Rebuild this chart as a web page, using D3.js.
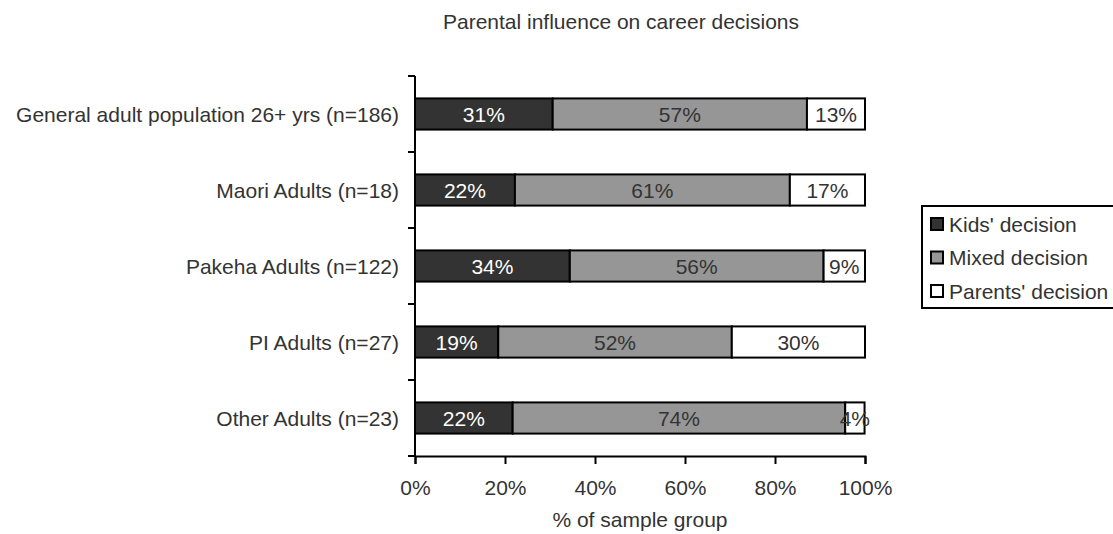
<!DOCTYPE html>
<html>
<head>
<meta charset="utf-8">
<script src="https://cdn.jsdelivr.net/npm/d3@7"></script>
<style>
  body { margin: 0; background: #fff; }
  text { font-family: "Liberation Sans", Arial, sans-serif; fill: #333; }
</style>
</head>
<body>
<div id="chart"></div>
<script>
var groups = ["General adult population 26+ yrs (n=186)", "Maori Adults (n=18)", "Pakeha Adults (n=122)", "PI Adults (n=27)", "Other Adults (n=23)"];
var seriesNames = ["Kids' decision", "Mixed decision", "Parents' decision"];
var kids = [30.6, 22.2, 34.4, 18.5, 21.7];
var mixed = [56.5, 61.1, 56.4, 51.9, 73.9];
var parents = [12.9, 16.7, 9.2, 29.6, 4.3];
var labelKids = ["31%", "22%", "34%", "19%", "22%"];
var labelMixed = ["57%", "61%", "56%", "52%", "74%"];
var labelParents = ["13%", "17%", "9%", "30%", "4%"];
var xTicks = [0, 20, 40, 60, 80, 100];
var colors = ["#333333", "#969696", "#ffffff"];
var textColors = ["#ffffff", "#333333", "#333333"];

var width = 1113, height = 534;
var fs = "21px";
var svg = d3.select("#chart").append("svg")
  .attr("width", width)
  .attr("height", height);

var x = d3.scaleLinear().domain([0, 100]).range([415, 865]);
var y = d3.scaleBand().domain(groups).range([76, 456]).paddingInner(0.59).paddingOuter(0.295);

var table = groups.map(function(g, i){
  return {group: g, vals: [kids[i], mixed[i], parents[i]], labels: [labelKids[i], labelMixed[i], labelParents[i]]};
});

// title
svg.append("text")
  .attr("x", 621).attr("y", 29)
  .attr("text-anchor", "middle")
  .style("font-size", fs)
  .text("Parental influence on career decisions");

// bars
var rows = svg.selectAll(".row")
  .data(table)
  .enter().append("g")
  .attr("class", "row");

rows.each(function(d){
  var g = d3.select(this);
  var start = 0;
  d.vals.forEach(function(v, k){
    g.append("rect")
      .attr("x", x(start))
      .attr("y", y(d.group))
      .attr("width", x(start + v) - x(start))
      .attr("height", y.bandwidth())
      .attr("fill", colors[k])
      .attr("stroke", "#000")
      .attr("stroke-width", 2);
    start += v;
  });
  start = 0;
  d.vals.forEach(function(v, k){
    g.append("text")
      .attr("x", (x(start) + x(start + v)) / 2)
      .attr("y", y(d.group) + y.bandwidth() / 2)
      .attr("dy", "0.36em")
      .attr("text-anchor", "middle")
      .style("font-size", fs)
      .style("fill", textColors[k])
      .text(d.labels[k]);
    start += v;
  });
});

// y axis
var yTickPos = d3.range(groups.length + 1).map(function(i){ return 76 + i * 76; });
svg.append("line")
  .attr("x1", 415).attr("x2", 415)
  .attr("y1", 76).attr("y2", 456)
  .attr("stroke", "#000").attr("stroke-width", 2);
svg.selectAll(".ytick")
  .data(yTickPos)
  .enter().append("line")
  .attr("x1", 408).attr("x2", 415)
  .attr("y1", function(d){ return d; }).attr("y2", function(d){ return d; })
  .attr("stroke", "#000").attr("stroke-width", 2);
svg.selectAll(".ylabel")
  .data(groups)
  .enter().append("text")
  .attr("x", 399)
  .attr("y", function(d){ return y(d) + y.bandwidth() / 2; })
  .attr("dy", "0.36em")
  .attr("text-anchor", "end")
  .style("font-size", fs)
  .text(function(d){ return d; });

// x axis
var xAxis = svg.append("g")
  .attr("transform", "translate(0,456)")
  .call(d3.axisBottom(x).tickValues(xTicks).tickSize(8).tickPadding(16).tickFormat(function(d){ return d + "%"; }));
xAxis.select(".domain").attr("stroke", "#000").attr("stroke-width", 2);
xAxis.selectAll(".tick line").attr("stroke", "#000").attr("stroke-width", 2);
xAxis.selectAll(".tick text")
  .style("font-family", "'Liberation Sans', Arial, sans-serif")
  .style("font-size", fs)
  .style("fill", "#333");

svg.append("text")
  .attr("x", 640).attr("y", 527)
  .attr("text-anchor", "middle")
  .style("font-size", fs)
  .text("% of sample group");

// legend
var legend = svg.append("g").attr("transform", "translate(922,206)");
legend.append("rect")
  .attr("x", 0).attr("y", 0)
  .attr("width", 200).attr("height", 102)
  .attr("fill", "#fff")
  .attr("stroke", "#000").attr("stroke-width", 2);
seriesNames.forEach(function(s, k){
  legend.append("rect")
    .attr("x", 9).attr("y", 12 + k * 33.5)
    .attr("width", 12).attr("height", 12)
    .attr("fill", colors[k])
    .attr("stroke", "#000").attr("stroke-width", 2);
  legend.append("text")
    .attr("x", 27).attr("y", 18 + k * 33.5)
    .attr("dy", "0.36em")
    .style("font-size", fs)
    .text(s);
});
</script>
</body>
</html>
